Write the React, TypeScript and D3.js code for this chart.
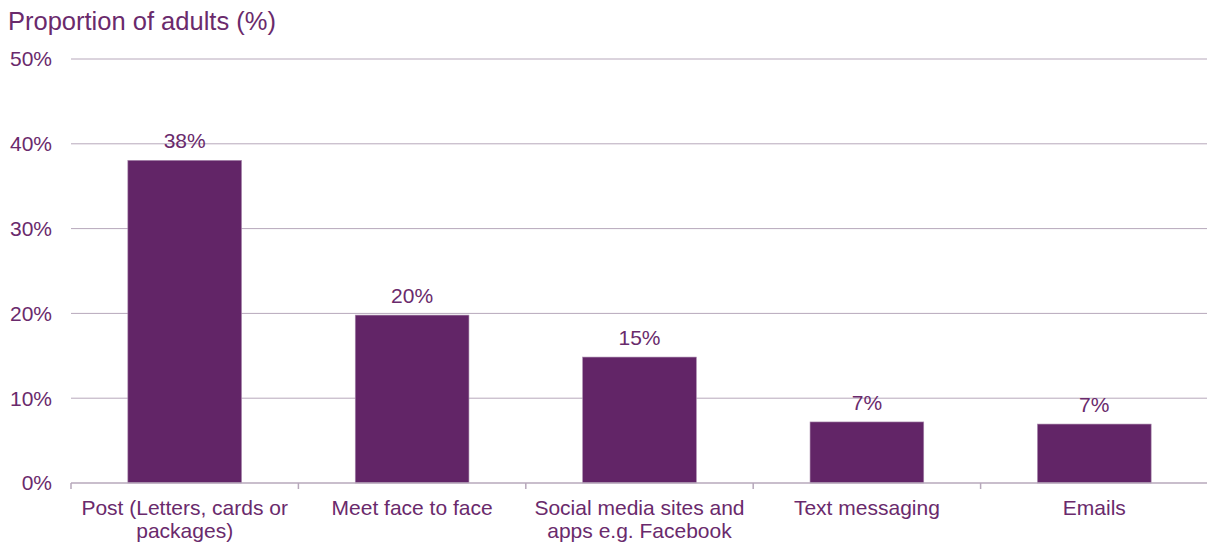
import React from "react";
import * as d3 from "d3";

const categories: string[][] = [
  ["Post (Letters, cards or", "packages)"],
  ["Meet face to face"],
  ["Social media sites and", "apps e.g. Facebook"],
  ["Text messaging"],
  ["Emails"],
];
const values: number[] = [38.05, 19.8, 14.85, 7.2, 6.95];
const valueLabels: string[] = ["38%", "20%", "15%", "7%", "7%"];
const yTicks: number[] = [0, 10, 20, 30, 40, 50];
const yTitle = "Proportion of adults (%)";

const W = 1207;
const H = 547;
const TEXT = "#6a2a6c";
const BAR = "#622567";
const GRID = "#b7a8bb";
const FONT = "'Liberation Sans', Arial, sans-serif";

export default function App() {
  const left = 71;
  const right = 1208;
  const top = 59;
  const bottom = 483;
  const keys = categories.map((_, i) => String(i));
  const x = d3.scaleBand<string>().domain(keys).range([left, right]).paddingInner(0.5).paddingOuter(0.25);
  const y = d3.scaleLinear().domain([0, 50]).range([bottom, top]);
  const step = x.step();
  return (
    <svg width={W} height={H} style={{ position: "absolute", left: 0, top: 0 }} fontFamily={FONT}>
      <text x={8} y={30} fontSize={25.5} fill={TEXT}>{yTitle}</text>
      {yTicks.map((t) => (
        <g key={t}>
          {t > 0 && <line x1={left} x2={W} y1={y(t)} y2={y(t)} stroke={GRID} strokeWidth={1} />}
          <text x={52} y={y(t)} dy="0.35em" textAnchor="end" fontSize={21} fill={TEXT}>{t}%</text>
        </g>
      ))}
      {values.map((v, i) => (
        <g key={i}>
          <rect x={x(String(i))} y={y(v)} width={x.bandwidth()} height={bottom - y(v)} fill={BAR} stroke="#a98aad" strokeWidth={0.6} />
          <text x={(x(String(i)) as number) + x.bandwidth() / 2} y={y(v) - 12} textAnchor="middle" fontSize={21} fill={TEXT}>{valueLabels[i]}</text>
        </g>
      ))}
      <line x1={left} x2={W} y1={bottom} y2={bottom} stroke={GRID} strokeWidth={1.5} />
      {d3.range(categories.length + 1).map((i) => (
        <line key={i} x1={left + i * step} x2={left + i * step} y1={bottom} y2={bottom + 6} stroke={GRID} strokeWidth={1.5} />
      ))}
      {categories.map((lines, i) => (
        <text key={i} x={(x(String(i)) as number) + x.bandwidth() / 2} y={515} textAnchor="middle" fontSize={21} fill={TEXT}>
          {lines.map((l, j) => (
            <tspan key={j} x={(x(String(i)) as number) + x.bandwidth() / 2} dy={j === 0 ? 0 : 23}>{l}</tspan>
          ))}
        </text>
      ))}
    </svg>
  );
}
